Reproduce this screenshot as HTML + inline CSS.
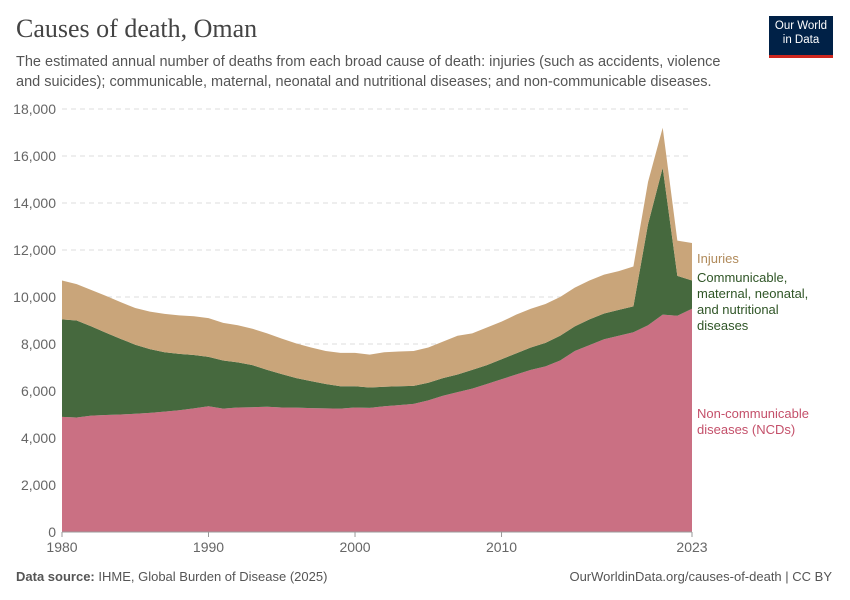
<!DOCTYPE html>
<html><head><meta charset="utf-8"><style>
body{margin:0;background:#fff;font-family:"Liberation Sans",sans-serif;}
#wrap{position:relative;width:850px;height:600px;overflow:hidden;}
</style></head><body>
<div id="wrap">
<div style="position:absolute;left:16px;top:14px;font-family:'Liberation Serif',serif;font-size:26px;color:#444;">Causes of death, Oman</div>
<div style="position:absolute;left:16px;top:52px;width:720px;font-size:14.5px;line-height:20px;color:#555;">The estimated annual number of deaths from each broad cause of death: injuries (such as accidents, violence and suicides); communicable, maternal, neonatal and nutritional diseases; and non-communicable diseases.</div>
<div style="position:absolute;left:769px;top:16px;width:64px;height:36px;background:#002147;border-bottom:3px solid #ce261e;color:#fff;font-size:11.5px;line-height:14px;text-align:center;padding-top:3px;box-sizing:content-box;">Our World<br>in Data</div>
<svg id="chart" width="850" height="600" style="position:absolute;left:0;top:0"></svg>
<div style="position:absolute;left:16px;top:569px;font-size:13px;color:#555;"><b>Data source:</b> IHME, Global Burden of Disease (2025)</div>
<div style="position:absolute;right:18px;top:569px;font-size:13px;color:#555;">OurWorldinData.org/causes-of-death | CC BY</div>
</div>
<script>
const years=[];for(let y=1980;y<=2023;y++)years.push(y);
const ncd=[4900,4870,4950,4980,5000,5030,5070,5120,5180,5260,5350,5250,5300,5310,5330,5300,5290,5270,5260,5250,5300,5280,5350,5400,5450,5600,5800,5950,6100,6300,6500,6700,6900,7050,7300,7700,7950,8200,8350,8500,8800,9250,9200,9500];
const communicable=[4150,4130,3800,3500,3220,2940,2710,2530,2400,2270,2100,2050,1920,1790,1570,1420,1260,1150,1040,950,900,870,830,800,770,750,750,750,800,800,850,900,950,1000,1050,1050,1100,1100,1100,1100,4300,6250,1700,1200];
const injuries=[1650,1550,1550,1570,1560,1560,1600,1630,1640,1650,1650,1600,1580,1550,1550,1510,1470,1430,1400,1420,1420,1400,1470,1480,1480,1500,1550,1650,1550,1600,1600,1650,1650,1650,1650,1650,1650,1650,1650,1700,1800,1700,1500,1600];
const yTicks=[0,2000,4000,6000,8000,10000,12000,14000,16000,18000];
const xTicks=[1980,1990,2000,2010,2023];
const NS="http://www.w3.org/2000/svg";
const svg=document.getElementById('chart');
const X=y=>62+(y-1980)*(692-62)/43;
const Y=v=>532-v*(532-109)/18000;
function mk(t,a){const e=document.createElementNS(NS,t);for(const k in a)e.setAttribute(k,a[k]);svg.appendChild(e);return e;}
yTicks.forEach(v=>{
  if(v>0){const l=mk('line',{x1:62,x2:692,y1:Y(v),y2:Y(v),stroke:'#ddd','stroke-dasharray':'5,4'});
  
  }
  const t=mk('text',{x:56,y:Y(v)+5,'text-anchor':'end','font-size':14,fill:'#666','font-family':'Liberation Sans'});
  t.textContent=v.toLocaleString('en-US');
  
  
});
const series=[[ncd,'#ca7083','area-ncd'],[communicable,'#46693e','area-communicable'],[injuries,'#c9a57a','area-injuries']];
let base=years.map(()=>0);
const tops=[];
series.forEach(([vals,col,name])=>{
  const top=base.map((b,i)=>b+vals[i]);
  let d='M'+years.map((y,i)=>X(y)+','+Y(top[i])).join('L');
  for(let i=years.length-1;i>=0;i--)d+='L'+X(years[i])+','+Y(base[i]);
  d+='Z';
  const p=mk('path',{d:d,fill:col});
  
  
  tops.push(top);base=top;
});
mk('line',{x1:62,x2:692,y1:532,y2:532,stroke:'#999'});
xTicks.forEach(y=>{
  mk('line',{x1:X(y),x2:X(y),y1:532,y2:537,stroke:'#999'});
  const t=mk('text',{x:X(y),y:552,'text-anchor':'middle','font-size':14,fill:'#666','font-family':'Liberation Sans'});
  t.textContent=y;
  
  
});
function lbl(lines,y0,col,name){lines.forEach((s,i)=>{const t=mk('text',{x:697,y:y0+i*16,'font-size':13,fill:col,'font-family':'Liberation Sans'});t.textContent=s;

});}
lbl(['Injuries'],263,'#b08a5a','legend-injuries');
lbl(['Communicable,','maternal, neonatal,','and nutritional','diseases'],282,'#2f5526','legend-communicable');
lbl(['Non-communicable','diseases (NCDs)'],418,'#c4506a','legend-ncd');
</script>
</body></html>
